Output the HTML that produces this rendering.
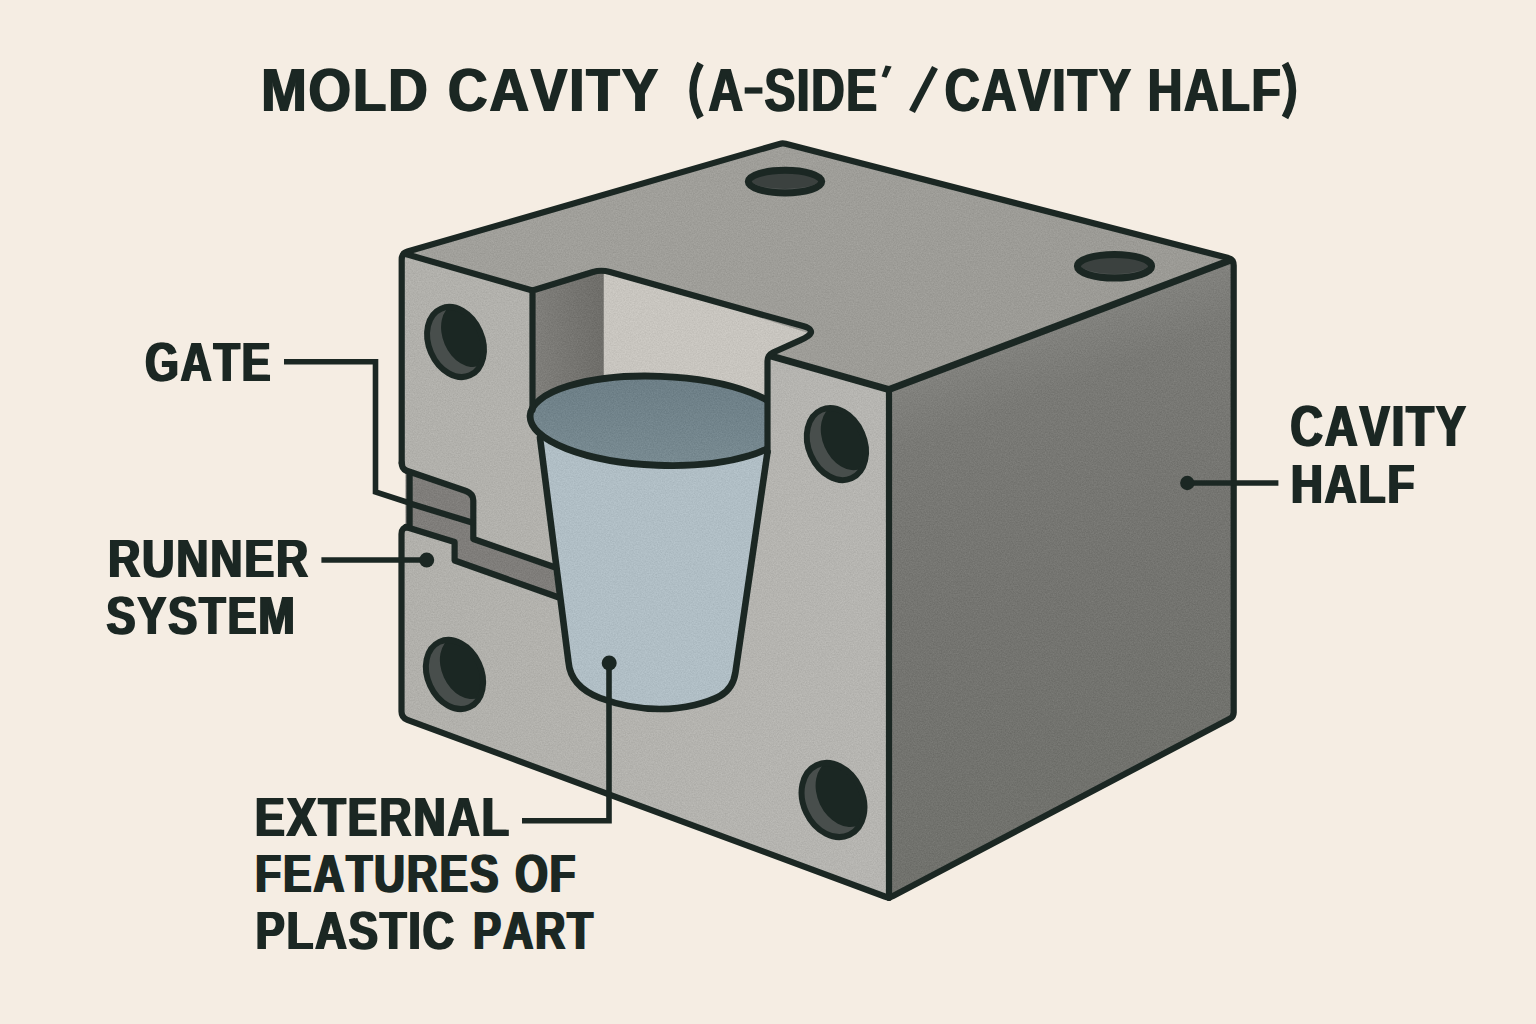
<!DOCTYPE html>
<html><head><meta charset="utf-8"><title>Mold Cavity</title>
<style>html,body{margin:0;padding:0;background:#f5ede3;}svg{display:block}</style>
</head><body>
<svg width="1536" height="1024" viewBox="0 0 1536 1024">
<defs>
<linearGradient id="gRight" gradientUnits="userSpaceOnUse" x1="889" y1="389" x2="1066.5" y2="856.5"><stop offset="0" stop-color="#82827e"/><stop offset="0.12" stop-color="#797975"/><stop offset="0.5" stop-color="#747470"/><stop offset="1" stop-color="#70716c"/></linearGradient>
<linearGradient id="gTop" x1="0" y1="0" x2="1" y2="0.3"><stop offset="0" stop-color="#a2a19c"/><stop offset="1" stop-color="#9b9a95"/></linearGradient>
<linearGradient id="gFront" x1="0" y1="0" x2="1" y2="0"><stop offset="0" stop-color="#b1b0ab"/><stop offset="1" stop-color="#b6b5b1"/></linearGradient>
<linearGradient id="gWall" x1="0" y1="0" x2="1" y2="0"><stop offset="0" stop-color="#807f7b"/><stop offset="1" stop-color="#6e6d69"/></linearGradient>
<linearGradient id="gCupIn" x1="0" y1="0" x2="0" y2="1"><stop offset="0" stop-color="#6c7e86"/><stop offset="1" stop-color="#788a91"/></linearGradient>
<filter id="grain" x="0" y="0" width="100%" height="100%" filterUnits="objectBoundingBox" color-interpolation-filters="sRGB">
<feTurbulence type="fractalNoise" baseFrequency="0.75" numOctaves="2" seed="7" result="n"/>
<feColorMatrix in="n" type="matrix" values="1 0 0 0 0  1 0 0 0 0  1 0 0 0 0  0 0 0 0 1" result="gn"/>
<feComposite in="SourceGraphic" in2="gn" operator="arithmetic" k1="0" k2="1" k3="0.10" k4="-0.05" result="c"/>
<feComposite in="c" in2="SourceGraphic" operator="in"/>
</filter>
<clipPath id="rimclip"><rect x="500" y="350" width="267.5" height="150"/></clipPath>
</defs>
<rect width="1536" height="1024" fill="#f5ede3"/>

<g filter="url(#grain)">
<!-- faces -->
<path d="M402 253 L782.5 143 L1232.5 259 L889 389 Z" fill="url(#gTop)"/>
<path d="M402 253 L889 389 L889 898 L401.5 717.5 Z" fill="url(#gFront)"/>
<path d="M889 389 L1232.5 259 L1233 717 L889 898 Z" fill="url(#gRight)"/>
<!-- pocket -->
<path d="M532.5 290.5 L603.75 269 L810 333.5 L767.5 354.5 L767.5 420 L532.5 420 Z" fill="#c8c5bf"/>
<path d="M532.5 290.5 L603.75 269 L603.75 420 L532.5 420 Z" fill="url(#gWall)"/>
<!-- runner / gate fills -->
<path d="M405 470 L471 492 L473 540 L553 567 L558 597 L454 561 L454 541 L405 526 Z" fill="#7f7d7a"/>
<!-- cup fills -->
<path d="M538.3 425 L568.5 662 C570 680 582 691 600 698 C620 705.5 640 709 660 709 C685 709 708 702.5 720 696 C730 690.5 734 683 735.5 672 L767.5 452 L767.5 425 Z" fill="#b0bec5"/>
<g clip-path="url(#rimclip)"><ellipse cx="659" cy="420.8" rx="129" ry="44.5" transform="rotate(2.2 659 420.8)" fill="url(#gCupIn)"/></g>
</g>
<path d="M397 467 L405.5 470 L405.5 528 L397 530 Z" fill="#f5ede3"/>
<!-- cup strokes -->
<path d="M540 437.8 L568.5 662 C570 680 582 691 600 698 C620 705.5 640 709 660 709 C685 709 708 702.5 720 696 C730 690.5 734 683 735.5 672 L767.5 452" fill="none" stroke="#1b2723" stroke-width="6.6" stroke-linejoin="round" stroke-linecap="round"/>
<g clip-path="url(#rimclip)"><ellipse cx="659" cy="420.8" rx="129" ry="44.5" transform="rotate(2.2 659 420.8)" fill="none" stroke="#1b2723" stroke-width="6.8"/></g>

<!-- outlines -->
<g fill="none" stroke="#1b2723" stroke-width="6.2" stroke-linejoin="round" stroke-linecap="round">
<!-- outer silhouette upper-left half -->
<path d="M401.7 463 L401.7 259.5 Q401.7 253.2 407.5 251.5 L779.5 143.9 Q782.5 143 785.5 143.8 L1227.5 257.8 Q1233.7 259.4 1233.7 265.5 L1233.7 712.5 Q1233.7 716.8 1229.8 718.8 L893 896 Q889 898.1 884.8 896.5 L407.3 719.8 Q401.5 717.6 401.5 711.5 L401.5 534 Q401.5 527 408 527.5"/>
<path d="M401.7 463 Q401.7 468.5 406 470.5"/>
<!-- top-front edge -->
<path d="M404 253.6 L532.5 290.5"/>
<path d="M770.5 355.8 L889 389.6 L1231 260" stroke-width="7"/>
<path d="M889 389 L889 898"/>
<!-- pocket outline -->
<path d="M532.5 410 L532.5 290.5 L593 272 Q601 269.5 610 272 L803 326.1 C811 328.3 813.5 332 808 336 C806 337.5 803 339 800 340.3 L773 352.5 Q767.5 355 767.5 361 L767.5 452"/>
<!-- gate/runner lines -->
<path d="M406 470.5 L466 491 Q473.3 493.8 473.3 500.5 L473.3 539 L554 567"/>
<path d="M409.6 472 L409.6 525"/>
<path d="M410 503.5 L472 522.5"/>
<path d="M406 527 L454.6 542 L454.6 560.5 L557.5 597"/>
</g>

<!-- holes -->
<g transform="translate(455.5 342)">
<clipPath id="h1"><ellipse rx="26.68" ry="36.36" transform="rotate(-23.4)"/></clipPath>
<ellipse rx="26.68" ry="36.36" transform="rotate(-23.4)" fill="#484e4c"/>
<g clip-path="url(#h1)"><ellipse cx="11" cy="-7" rx="23.68" ry="33.36" transform="rotate(-23.4 11 -7)" fill="#1b2723"/></g>
<ellipse rx="26.68" ry="36.36" transform="rotate(-23.4)" fill="none" stroke="#1b2723" stroke-width="6"/>
</g>
<g transform="translate(836.4 444.1)">
<clipPath id="h2"><ellipse rx="27.87" ry="37.38" transform="rotate(-23.7)"/></clipPath>
<ellipse rx="27.87" ry="37.38" transform="rotate(-23.7)" fill="#484e4c"/>
<g clip-path="url(#h2)"><ellipse cx="11" cy="-7" rx="24.87" ry="34.38" transform="rotate(-23.7 11 -7)" fill="#1b2723"/></g>
<ellipse rx="27.87" ry="37.38" transform="rotate(-23.7)" fill="none" stroke="#1b2723" stroke-width="6"/>
</g>
<g transform="translate(454.5 674.5)">
<clipPath id="h3"><ellipse rx="26.79" ry="35.95" transform="rotate(-24.8)"/></clipPath>
<ellipse rx="26.79" ry="35.95" transform="rotate(-24.8)" fill="#484e4c"/>
<g clip-path="url(#h3)"><ellipse cx="11" cy="-7" rx="23.79" ry="32.95" transform="rotate(-24.8 11 -7)" fill="#1b2723"/></g>
<ellipse rx="26.79" ry="35.95" transform="rotate(-24.8)" fill="none" stroke="#1b2723" stroke-width="6"/>
</g>
<g transform="translate(833 800)">
<clipPath id="h4"><ellipse rx="29.58" ry="38.49" transform="rotate(-25.4)"/></clipPath>
<ellipse rx="29.58" ry="38.49" transform="rotate(-25.4)" fill="#484e4c"/>
<g clip-path="url(#h4)"><ellipse cx="11" cy="-7" rx="26.58" ry="35.49" transform="rotate(-25.4 11 -7)" fill="#1b2723"/></g>
<ellipse rx="29.58" ry="38.49" transform="rotate(-25.4)" fill="none" stroke="#1b2723" stroke-width="6"/>
</g>
<g transform="translate(785 181.6)">
<clipPath id="t1"><ellipse rx="36.7" ry="11.3"/></clipPath>
<ellipse rx="36.7" ry="11.3" fill="#535856"/>
<ellipse cx="0" cy="-3" rx="35.7" ry="10.3" fill="#3b413f" clip-path="url(#t1)"/>
<ellipse rx="36.7" ry="11.3" fill="none" stroke="#1b2723" stroke-width="7"/>
</g>
<g transform="translate(1114.5 266.25)">
<clipPath id="t2"><ellipse rx="37.1" ry="11.75"/></clipPath>
<ellipse rx="37.1" ry="11.75" fill="#535856"/>
<ellipse cx="0" cy="-3" rx="36.1" ry="10.75" fill="#3b413f" clip-path="url(#t2)"/>
<ellipse rx="37.1" ry="11.75" fill="none" stroke="#1b2723" stroke-width="7"/>
</g>

<!-- leaders -->
<g fill="none" stroke="#1b2723" stroke-width="5.6" stroke-linejoin="miter" stroke-linecap="butt">
<path d="M284 361.8 L375.5 361.8 L375.5 492 L408 502.5"/>
<path d="M321.4 560 L426.7 560"/>
<path d="M1187 483 L1278.4 483"/>
<path d="M609 663 L609 820.8 L522 820.8"/>
</g>
<circle cx="426.7" cy="560" r="7.5" fill="#1b2723"/>
<circle cx="1187.3" cy="483" r="7.2" fill="#1b2723"/>
<circle cx="609.2" cy="663" r="7.5" fill="#1b2723"/>

<!-- text -->
<g fill="#1b2723" font-family="Liberation Sans, sans-serif" font-weight="bold" style="font-kerning:none">
<text transform="translate(260.25 110.50) scale(0.5459 0.6061)" font-size="100" letter-spacing="3.50">MOLD</text><text transform="translate(262.25 110.50) scale(0.5459 0.6061)" font-size="100" letter-spacing="3.50">MOLD</text>
<text transform="translate(446.95 110.50) scale(0.5474 0.6061)" font-size="100" letter-spacing="3.50">CAVITY</text><text transform="translate(448.95 110.50) scale(0.5474 0.6061)" font-size="100" letter-spacing="3.50">CAVITY</text>
<text transform="translate(707.61 111.00) scale(0.4785 0.6090)" font-size="100" letter-spacing="0.00">A</text><text transform="translate(709.61 111.00) scale(0.4785 0.6090)" font-size="100" letter-spacing="0.00">A</text>
<text transform="translate(763.47 111.00) scale(0.4614 0.6090)" font-size="100" letter-spacing="3.50">SIDE</text><text transform="translate(765.47 111.00) scale(0.4614 0.6090)" font-size="100" letter-spacing="3.50">SIDE</text>
<text transform="translate(943.81 110.90) scale(0.4851 0.6061)" font-size="100" letter-spacing="3.50">CAVITY</text><text transform="translate(945.81 110.90) scale(0.4851 0.6061)" font-size="100" letter-spacing="3.50">CAVITY</text>
<text transform="translate(1146.79 110.90) scale(0.4799 0.6061)" font-size="100" letter-spacing="3.50">HALF</text><text transform="translate(1148.79 110.90) scale(0.4799 0.6061)" font-size="100" letter-spacing="3.50">HALF</text>
<text transform="translate(144.04 380.80) scale(0.4300 0.5552)" font-size="100" letter-spacing="4.50">GATE</text><text transform="translate(146.44 380.80) scale(0.4300 0.5552)" font-size="100" letter-spacing="4.50">GATE</text>
<text transform="translate(107.03 577.30) scale(0.4441 0.5305)" font-size="100" letter-spacing="4.50">RUNNER</text><text transform="translate(109.43 577.30) scale(0.4441 0.5305)" font-size="100" letter-spacing="4.50">RUNNER</text>
<text transform="translate(105.35 634.40) scale(0.4338 0.5436)" font-size="100" letter-spacing="4.50">SYSTEM</text><text transform="translate(107.75 634.40) scale(0.4338 0.5436)" font-size="100" letter-spacing="4.50">SYSTEM</text>
<text transform="translate(1289.15 446.40) scale(0.4514 0.5683)" font-size="100" letter-spacing="4.50">CAVITY</text><text transform="translate(1291.55 446.40) scale(0.4514 0.5683)" font-size="100" letter-spacing="4.50">CAVITY</text>
<text transform="translate(1289.85 503.30) scale(0.4404 0.5465)" font-size="100" letter-spacing="4.50">HALF</text><text transform="translate(1292.25 503.30) scale(0.4404 0.5465)" font-size="100" letter-spacing="4.50">HALF</text>
<text transform="translate(253.82 835.60) scale(0.4454 0.5480)" font-size="100" letter-spacing="4.50">EXTERNAL</text><text transform="translate(256.22 835.60) scale(0.4454 0.5480)" font-size="100" letter-spacing="4.50">EXTERNAL</text>
<text transform="translate(253.95 892.20) scale(0.4266 0.5363)" font-size="100" letter-spacing="4.50">FEATURES</text><text transform="translate(256.35 892.20) scale(0.4266 0.5363)" font-size="100" letter-spacing="4.50">FEATURES</text>
<text transform="translate(514.08 892.20) scale(0.4189 0.5363)" font-size="100" letter-spacing="4.50">OF</text><text transform="translate(516.48 892.20) scale(0.4189 0.5363)" font-size="100" letter-spacing="4.50">OF</text>
<text transform="translate(254.38 949.00) scale(0.4367 0.5436)" font-size="100" letter-spacing="4.50">PLASTIC</text><text transform="translate(256.78 949.00) scale(0.4367 0.5436)" font-size="100" letter-spacing="4.50">PLASTIC</text>
<text transform="translate(471.89 949.00) scale(0.4195 0.5436)" font-size="100" letter-spacing="4.50">PART</text><text transform="translate(474.29 949.00) scale(0.4195 0.5436)" font-size="100" letter-spacing="4.50">PART</text>
</g>
<!-- punctuation in title -->
<g fill="none" stroke="#1b2723" stroke-width="7.3" stroke-linecap="butt">
<path d="M700.5 63.5 Q685.5 90.5 700.5 117.5"/>
<path d="M1285 63.5 Q1300 90.5 1285 117.5"/>
<path d="M935 67.5 L912 111.5" stroke-width="6.6"/>
</g>
<rect x="744.7" y="87.4" width="17.7" height="6.2" fill="#1b2723"/>
<path d="M885.5 65.5 L891.6 66.5 L886.5 77.8 L881.6 76.6 Z" fill="#1b2723"/>
</svg>
</body></html>
